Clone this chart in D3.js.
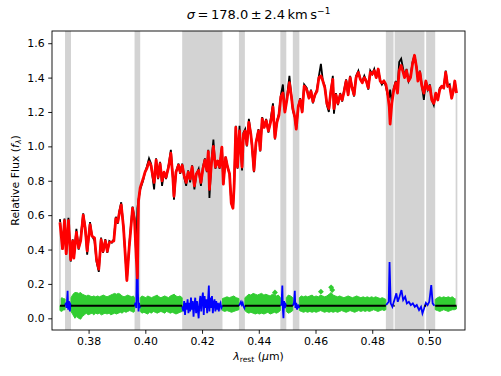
<!DOCTYPE html>
<html>
<head>
<meta charset="utf-8">
<script src="https://cdn.jsdelivr.net/npm/d3@7"></script>
<style>
body { margin: 0; background: #fff; }
svg { display: block; font-family: "DejaVu Sans", sans-serif; }
</style>
</head>
<body>
<div id="vis-container"></div>
<script>

// wavelength (micron), galaxy spectrum and best fit
var wave = [
	0.3699,0.3708,0.3715,0.3721,0.3729,0.3737,0.3744,0.3748,0.3757,0.3765,
	0.3772,0.3781,0.3788,0.3795,0.3805,0.3812,0.3821,0.3828,0.3836,0.3844,
	0.3851,0.3859,0.3866,0.3873,0.3882,0.3889,0.3896,0.3903,0.3908,0.3915,
	0.3923,0.3929,0.3935,0.3943,0.3955,0.3962,0.3968,0.3972,0.3976,0.3982,
	0.3992,0.3999,0.4005,0.4013,0.4020,0.4024,0.4031,0.4038,0.4045,0.4052,
	0.4059,0.4066,0.4073,0.4082,0.4090,0.4097,0.4101,0.4108,0.4117,0.4123,
	0.4130,0.4137,0.4144,0.4151,0.4158,0.4165,0.4173,0.4180,0.4188,0.4196,
	0.4203,0.4210,0.4217,0.4222,0.4226,0.4233,0.4240,0.4247,0.4255,0.4262,
	0.4270,0.4275,0.4283,0.4290,0.4297,0.4303,0.4309,0.4313,0.4319,0.4325,
	0.4332,0.4341,0.4346,0.4352,0.4358,0.4365,0.4372,0.4376,0.4383,0.4390,
	0.4399,0.4405,0.4412,0.4419,0.4426,0.4434,0.4443,0.4450,0.4457,0.4464,
	0.4471,0.4478,0.4485,0.4492,0.4499,0.4508,0.4515,0.4520,0.4527,0.4532,
	0.4539,0.4546,0.4553,0.4560,0.4569,0.4577,0.4584,0.4591,0.4598,0.4605,
	0.4612,0.4619,0.4626,0.4633,0.4640,0.4647,0.4654,0.4661,0.4665,0.4672,
	0.4679,0.4687,0.4694,0.4701,0.4708,0.4715,0.4722,0.4729,0.4736,0.4743,
	0.4751,0.4758,0.4765,0.4772,0.4779,0.4786,0.4793,0.4800,0.4807,0.4814,
	0.4821,0.4828,0.4834,0.4841,0.4848,0.4854,0.4860,0.4863,0.4869,0.4876,
	0.4883,0.4889,0.4895,0.4902,0.4909,0.4914,0.4921,0.4928,0.4935,0.4942,
	0.4949,0.4956,0.4961,0.4968,0.4975,0.4982,0.4989,0.4996,0.5003,0.5010,
	0.5017,0.5024,0.5031,0.5038,0.5045,0.5052,0.5059,0.5066,0.5073,0.5080,
	0.5087,0.5091,0.5097
];
var bestfit = [
	0.558,0.405,0.568,0.376,0.568,0.341,0.450,0.350,0.500,0.410,
	0.450,0.600,0.525,0.392,0.545,0.478,0.468,0.343,0.286,0.457,
	0.390,0.450,0.390,0.440,0.445,0.450,0.580,0.560,0.610,0.660,
	0.530,0.375,0.220,0.410,0.640,0.570,0.355,0.235,0.684,0.760,
	0.810,0.850,0.870,0.910,0.890,0.850,0.790,0.920,0.820,0.900,
	0.800,0.850,0.820,0.880,0.960,0.820,0.710,0.850,0.890,0.850,
	0.890,0.830,0.790,0.850,0.810,0.880,0.770,0.840,0.860,0.790,
	0.870,0.920,0.860,0.970,0.750,0.900,1.000,0.880,0.915,0.880,
	0.995,0.780,0.935,0.880,0.840,0.670,0.640,0.765,1.110,0.880,
	1.090,0.880,1.070,1.090,1.010,1.140,1.070,1.010,0.860,1.020,
	1.090,0.980,1.160,1.110,1.150,1.090,1.150,1.230,1.050,1.140,
	1.180,1.290,1.310,1.200,1.270,1.370,1.290,1.220,1.170,1.100,
	1.230,1.270,1.200,1.350,1.330,1.280,1.320,1.260,1.300,1.320,
	1.400,1.410,1.380,1.340,1.250,1.220,1.320,1.390,1.220,1.300,
	1.250,1.300,1.270,1.320,1.380,1.300,1.400,1.340,1.300,1.400,
	1.430,1.390,1.370,1.400,1.380,1.340,1.430,1.420,1.440,1.400,
	1.450,1.380,1.370,1.380,1.360,1.310,1.230,1.130,1.250,1.330,
	1.370,1.310,1.440,1.470,1.430,1.400,1.440,1.380,1.400,1.480,
	1.530,1.460,1.380,1.430,1.350,1.310,1.380,1.330,1.350,1.270,
	1.250,1.310,1.270,1.330,1.350,1.340,1.430,1.350,1.350,1.280,
	1.330,1.380,1.310
];
var galaxy = [
	0.577,0.400,0.580,0.370,0.585,0.330,0.460,0.350,0.520,0.400,
	0.470,0.610,0.530,0.370,0.560,0.480,0.450,0.330,0.270,0.470,
	0.380,0.460,0.380,0.450,0.440,0.460,0.590,0.550,0.620,0.675,
	0.530,0.380,0.220,0.420,0.650,0.580,0.360,0.640,0.690,0.750,
	0.800,0.850,0.880,0.930,0.900,0.840,0.750,0.930,0.810,0.910,
	0.770,0.850,0.810,0.890,0.980,0.820,0.690,0.850,0.900,0.840,
	0.900,0.820,0.770,0.860,0.790,0.890,0.750,0.840,0.870,0.770,
	0.880,0.930,0.850,0.980,0.700,0.910,1.040,0.870,0.920,0.870,
	1.000,0.780,0.940,0.880,0.840,0.670,0.640,0.770,1.120,0.870,
	1.120,0.860,1.080,1.100,1.000,1.160,1.070,1.000,0.850,1.020,
	1.100,0.970,1.170,1.110,1.160,1.080,1.170,1.250,1.040,1.150,
	1.190,1.300,1.360,1.200,1.280,1.410,1.290,1.210,1.170,1.100,
	1.230,1.280,1.200,1.360,1.340,1.280,1.330,1.250,1.300,1.330,
	1.410,1.480,1.380,1.350,1.240,1.200,1.320,1.410,1.190,1.310,
	1.240,1.310,1.260,1.330,1.390,1.300,1.410,1.340,1.290,1.410,
	1.440,1.390,1.380,1.410,1.380,1.330,1.440,1.420,1.450,1.400,
	1.450,1.380,1.360,1.380,1.350,1.300,1.290,1.330,1.260,1.340,
	1.380,1.330,1.490,1.510,1.450,1.410,1.450,1.380,1.410,1.490,
	1.530,1.460,1.400,1.440,1.350,1.270,1.380,1.330,1.360,1.270,
	1.240,1.310,1.270,1.340,1.350,1.340,1.440,1.350,1.360,1.280,
	1.340,1.380,1.310
];

// masked wavelength ranges (grey bands)
var maskStart = [0.3717, 0.3962, 0.4130, 0.4330, 0.4476, 0.4520, 0.4848, 0.4879, 0.4990];
var maskEnd   = [0.3738, 0.3982, 0.4272, 0.4351, 0.4497, 0.4543, 0.4875, 0.4984, 0.5022];

// residual offset level
var residOffset = 0.073;

// spread of the good-pixel residuals (upper / lower edge), null = masked gap
var residWave = [
	0.3699,0.3705,0.3711,0.3717, null,
	0.3738,0.3745,0.3752,0.3758,0.3765,0.3772,0.3778,0.3785,0.3792,0.3798,
	0.3805,0.3812,0.3818,0.3825,0.3832,0.3838,0.3845,0.3852,0.3858,0.3865,
	0.3872,0.3878,0.3885,0.3892,0.3898,0.3905,0.3912,0.3918,0.3925,0.3932,
	0.3938,0.3945,0.3952,0.3958,0.3962, null,
	0.3982,0.3988,0.3995,0.4002,0.4008,0.4015,0.4022,0.4028,0.4035,0.4042,
	0.4048,0.4055,0.4062,0.4068,0.4075,0.4082,0.4088,0.4095,0.4102,0.4108,
	0.4115,0.4122,0.4130, null,
	0.4272,0.4280,0.4288,0.4296,0.4304,0.4312,0.4320,0.4330, null,
	0.4351,0.4358,0.4365,0.4372,0.4380,0.4388,0.4395,0.4402,0.4410,0.4418,
	0.4425,0.4432,0.4440,0.4448,0.4455,0.4462,0.4469,0.4476, null,
	0.4497,0.4504,0.4512,0.4520, null,
	0.4543,0.4550,0.4558,0.4565,0.4572,0.4580,0.4588,0.4595,0.4602,0.4610,
	0.4618,0.4625,0.4632,0.4640,0.4648,0.4655,0.4662,0.4670,0.4678,0.4685,
	0.4692,0.4700,0.4708,0.4715,0.4722,0.4730,0.4738,0.4745,0.4752,0.4760,
	0.4768,0.4775,0.4782,0.4790,0.4798,0.4805,0.4812,0.4820,0.4828,0.4835,
	0.4842,0.4848, null,
	0.5022,0.5030,0.5038,0.5045,0.5052,0.5060,0.5068,0.5075,0.5082,0.5090,
	0.5097
];
var residHi = [
	0.110,0.120,0.115,0.112, null,
	0.120,0.140,0.150,0.150,0.145,0.150,0.140,0.135,0.130,0.135,
	0.130,0.125,0.130,0.125,0.130,0.125,0.130,0.135,0.130,0.125,
	0.130,0.135,0.140,0.145,0.140,0.145,0.140,0.130,0.125,0.130,
	0.135,0.130,0.125,0.130,0.120, null,
	0.120,0.130,0.125,0.120,0.130,0.125,0.120,0.125,0.130,0.135,
	0.125,0.120,0.125,0.130,0.125,0.120,0.130,0.135,0.140,0.130,
	0.125,0.130,0.120, null,
	0.115,0.120,0.125,0.120,0.125,0.130,0.120,0.115, null,
	0.120,0.130,0.140,0.135,0.145,0.140,0.135,0.140,0.145,0.135,
	0.140,0.135,0.130,0.140,0.135,0.130,0.135,0.120, null,
	0.120,0.135,0.130,0.120, null,
	0.120,0.130,0.125,0.130,0.125,0.130,0.135,0.125,0.130,0.125,
	0.135,0.130,0.125,0.130,0.140,0.150,0.135,0.130,0.125,0.130,
	0.125,0.120,0.125,0.130,0.125,0.120,0.125,0.130,0.125,0.120,
	0.125,0.120,0.125,0.120,0.125,0.120,0.125,0.120,0.115,0.120,
	0.115,0.110, null,
	0.110,0.120,0.125,0.120,0.125,0.120,0.125,0.120,0.125,0.115,
	0.110
];
var residLo = [
	0.045,0.040,0.048,0.050, null,
	0.040,0.020,0.000,0.010,0.000,-0.005,0.010,0.020,0.030,0.020,
	0.025,0.030,0.020,0.030,0.025,0.030,0.020,0.025,0.030,0.025,
	0.030,0.020,0.025,0.030,0.025,0.030,0.035,0.030,0.040,0.035,
	0.040,0.045,0.040,0.035,0.040, null,
	0.040,0.030,0.035,0.030,0.025,0.035,0.030,0.040,0.035,0.030,
	0.035,0.040,0.035,0.030,0.040,0.035,0.030,0.035,0.030,0.025,
	0.030,0.035,0.040, null,
	0.045,0.040,0.045,0.040,0.035,0.040,0.045,0.050, null,
	0.045,0.035,0.030,0.035,0.030,0.025,0.030,0.025,0.030,0.025,
	0.030,0.035,0.025,0.030,0.035,0.030,0.035,0.045, null,
	0.040,0.030,0.035,0.045, null,
	0.045,0.040,0.035,0.040,0.035,0.040,0.035,0.040,0.035,0.040,
	0.045,0.040,0.035,0.040,0.035,0.040,0.035,0.040,0.035,0.040,
	0.045,0.040,0.035,0.040,0.045,0.040,0.035,0.040,0.045,0.040,
	0.045,0.040,0.045,0.040,0.045,0.050,0.045,0.040,0.045,0.050,
	0.045,0.050, null,
	0.050,0.045,0.040,0.045,0.050,0.045,0.040,0.045,0.050,0.050,
	0.055
];
// isolated residual points sticking out of the band
var outlierWave  = [0.4457, 0.4619, 0.4655, 0.4659];
var outlierResid = [0.150, 0.155, 0.180, 0.165];

// residuals inside the masked ranges (blue), null = break between ranges
var maskedWave = [
	0.3717,0.3720,0.3722,0.3724,0.3726,0.3728,0.3730,0.3732,0.3734,0.3736,0.3738, null,
	0.3962,0.3965,0.3968,0.3970,0.3972,0.3974,0.3976,0.3978,0.3980,0.3982, null,
	0.4130,0.4134,0.4137,0.4140,0.4143,0.4146,0.4149,0.4152,0.4155,0.4158,
	0.4161,0.4164,0.4167,0.4170,0.4173,0.4176,0.4179,0.4182,0.4185,0.4188,
	0.4191,0.4194,0.4197,0.4200,0.4203,0.4206,0.4209,0.4212,0.4215,0.4218,
	0.4221,0.4224,0.4226,0.4229,0.4232,0.4235,0.4238,0.4241,0.4244,0.4247,
	0.4250,0.4253,0.4256,0.4259,0.4262,0.4265,0.4268,0.4272, null,
	0.4330,0.4334,0.4337,0.4340,0.4343,0.4346,0.4349,0.4351, null,
	0.4476,0.4480,0.4483,0.4485,0.4487,0.4489,0.4492,0.4495,0.4497, null,
	0.4520,0.4524,0.4527,0.4529,0.4532,0.4535,0.4538,0.4541,0.4543, null,
	0.4849,0.4858,0.4861,0.4865,0.4871,0.4878,0.4885,0.4890,0.4896,0.4903,
	0.4909,0.4916,0.4922,0.4929,0.4936,0.4943,0.4950,0.4957,0.4965,0.4972,
	0.4977,0.4983,0.4989,0.4995,0.5001,0.5008,0.5013,0.5019
];
var maskedResid = [
	0.075,0.090,0.060,0.100,0.160,0.050,0.100,0.070,0.040,0.080,0.073, null,
	0.073,0.090,0.060,0.300,0.470,0.150,0.040,0.090,0.060,0.075, null,
	0.070,0.040,0.100,0.020,0.090,0.050,0.110,0.030,0.090,0.040,
	0.120,0.050,0.100,0.010,0.080,0.120,0.030,0.100,0.050,0.000,
	0.090,0.130,0.040,0.110,0.150,0.020,0.130,0.060,0.110,0.030,
	0.100,0.190,0.040,0.120,0.060,0.130,0.030,0.090,0.110,0.040,
	0.100,0.050,0.090,0.040,0.080,0.090,0.060,0.075, null,
	0.073,0.085,0.095,0.080,0.090,0.070,0.060,0.073, null,
	0.073,0.080,0.190,0.050,0.000,0.100,0.060,0.080,0.073, null,
	0.073,0.090,0.160,0.060,0.090,0.050,0.080,0.060,0.073, null,
	0.077,0.096,0.327,0.087,0.067,0.106,0.145,0.096,0.125,0.164,
	0.106,0.125,0.087,0.096,0.077,0.087,0.067,0.077,0.048,0.067,
	0.029,0.058,0.090,0.077,0.096,0.193,0.087,0.073
];

var xTicks = [0.38, 0.40, 0.42, 0.44, 0.46, 0.48, 0.50];
var yTicks = [0.0, 0.2, 0.4, 0.6, 0.8, 1.0, 1.2, 1.4, 1.6];

// chart frame
var margin = { top: 31, right: 36, bottom: 46, left: 52 };
var width = 501 - margin.left - margin.right;
var height = 376 - margin.top - margin.bottom;

var svg = d3.select("#vis-container")
	.append("svg")
	.attr("width", 501)
	.attr("height", 376);
var g = svg.append("g")
	.attr("transform", "translate(" + margin.left + "," + margin.top + ")");

var xScale = d3.scaleLinear().domain([0.3671, 0.5127]).range([0, width]);
var yScale = d3.scaleLinear().domain([-0.068, 1.671]).range([height, 0]);

g.append("clipPath").attr("id", "clip")
	.append("rect").attr("width", width).attr("height", height);
var plot = g.append("g").attr("clip-path", "url(#clip)");

// grey masked bands
plot.selectAll("rect.mask")
	.data(maskStart)
	.enter().append("rect")
	.attr("class", "mask")
	.attr("x", function (d) { return xScale(d); })
	.attr("width", function (d, i) { return xScale(maskEnd[i]) - xScale(d); })
	.attr("y", 0)
	.attr("height", height)
	.attr("fill", "#d3d3d3");

var spec = wave.map(function (w, i) { return { w: w, fit: bestfit[i], gal: galaxy[i] }; });

// galaxy spectrum
plot.append("path")
	.datum(spec)
	.attr("fill", "none")
	.attr("stroke", "black")
	.attr("stroke-width", 1.8)
	.attr("d", d3.line()
		.x(function (d) { return xScale(d.w); })
		.y(function (d) { return yScale(d.gal); }));

// good-pixel residuals (green)
var band = residWave.map(function (w, i) { return { w: w, hi: residHi[i], lo: residLo[i] }; });
plot.append("path")
	.datum(band)
	.attr("fill", "limegreen")
	.attr("stroke", "limegreen")
	.attr("stroke-width", 1)
	.attr("d", d3.area()
		.defined(function (d) { return d.w != null; })
		.x(function (d) { return xScale(d.w); })
		.y0(function (d) { return yScale(d.lo); })
		.y1(function (d) { return yScale(d.hi); }));

plot.selectAll("path.outlier")
	.data(outlierWave)
	.enter().append("path")
	.attr("class", "outlier")
	.attr("transform", function (d, i) { return "translate(" + xScale(d) + "," + yScale(outlierResid[i]) + ")"; })
	.attr("d", d3.symbol().type(d3.symbolDiamond2).size(22))
	.attr("fill", "limegreen");

// masked residuals (blue)
var masked = maskedWave.map(function (w, i) { return { w: w, r: maskedResid[i] }; });
plot.append("path")
	.datum(masked)
	.attr("fill", "none")
	.attr("stroke", "blue")
	.attr("stroke-width", 1.8)
	.attr("d", d3.line()
		.defined(function (d) { return d.w != null; })
		.x(function (d) { return xScale(d.w); })
		.y(function (d) { return yScale(d.r); }));

// light grey markers at the first and last good pixel
var ends = [0, wave.length - 1];
plot.selectAll("line.edge")
	.data(ends)
	.enter().append("line")
	.attr("class", "edge")
	.attr("x1", function (i) { return xScale(wave[i]); })
	.attr("x2", function (i) { return xScale(wave[i]); })
	.attr("y1", yScale(residOffset))
	.attr("y2", function (i) { return yScale(bestfit[i]); })
	.attr("stroke", "#d3d3d3")
	.attr("stroke-width", 1.7);

// zero level of the residuals over the good pixels
var goodFrom = [wave[0]].concat(maskEnd);
var goodTo = maskStart.concat([wave[wave.length - 1]]);
plot.selectAll("line.zero")
	.data(goodFrom)
	.enter().append("line")
	.attr("class", "zero")
	.attr("x1", function (d) { return xScale(d); })
	.attr("x2", function (d, i) { return xScale(goodTo[i]); })
	.attr("y1", yScale(residOffset))
	.attr("y2", yScale(residOffset))
	.attr("stroke", "black")
	.attr("stroke-width", 2);

// best fit
plot.append("path")
	.datum(spec)
	.attr("fill", "none")
	.attr("stroke", "red")
	.attr("stroke-width", 2.8)
	.attr("stroke-linejoin", "round")
	.attr("d", d3.line()
		.x(function (d) { return xScale(d.w); })
		.y(function (d) { return yScale(d.fit); }));

// axes
var xAxis = g.append("g")
	.attr("transform", "translate(0," + height + ")")
	.call(d3.axisBottom(xScale).tickValues(xTicks).tickFormat(d3.format(".2f"))
		.tickSize(3.8).tickPadding(3.6).tickSizeOuter(0));
var yAxis = g.append("g")
	.call(d3.axisLeft(yScale).tickValues(yTicks).tickFormat(d3.format(".1f"))
		.tickSize(3.8).tickPadding(3.6).tickSizeOuter(0));
[xAxis, yAxis].forEach(function (a) {
	a.select(".domain").remove();
	a.selectAll("line").attr("stroke", "black").attr("stroke-width", 0.9);
	a.selectAll("text").attr("fill", "black")
		.style("font-size", "10.9px")
		.style("font-family", "DejaVu Sans");
});

g.append("rect")
	.attr("width", width)
	.attr("height", height)
	.attr("fill", "none")
	.attr("stroke", "black")
	.attr("stroke-width", 0.9);

// title
var title = svg.append("text")
	.attr("x", margin.left + width / 2)
	.attr("y", 18.5)
	.style("text-anchor", "middle")
	.style("font-size", "13px");
title.append("tspan").style("font-style", "italic").text("σ");
title.append("tspan").text("\u2009=\u2009178.0\u2009±\u20092.4\u2009km\u2009s");
title.append("tspan").attr("dy", -5).style("font-size", "9px").text("−1");

// y label
var ylab = svg.append("text")
	.attr("transform", "translate(19," + (margin.top + height / 2) + ") rotate(-90)")
	.style("text-anchor", "middle")
	.style("font-size", "10.9px");
ylab.append("tspan").text("Relative Flux (");
ylab.append("tspan").style("font-style", "italic").text("f");
ylab.append("tspan").attr("dy", 2).style("font-size", "7.6px").style("font-style", "italic").text("λ");
ylab.append("tspan").attr("dy", -2).text(")");

// x label
var xlab = svg.append("text")
	.attr("x", margin.left + width / 2)
	.attr("y", 360)
	.style("text-anchor", "middle")
	.style("font-size", "10.9px");
xlab.append("tspan").style("font-style", "italic").text("λ");
xlab.append("tspan").attr("dy", 2).style("font-size", "7.6px").text("rest");
xlab.append("tspan").attr("dy", -2).text(" (");
xlab.append("tspan").style("font-style", "italic").text("μ");
xlab.append("tspan").text("m)");
</script>
</body>
</html>
